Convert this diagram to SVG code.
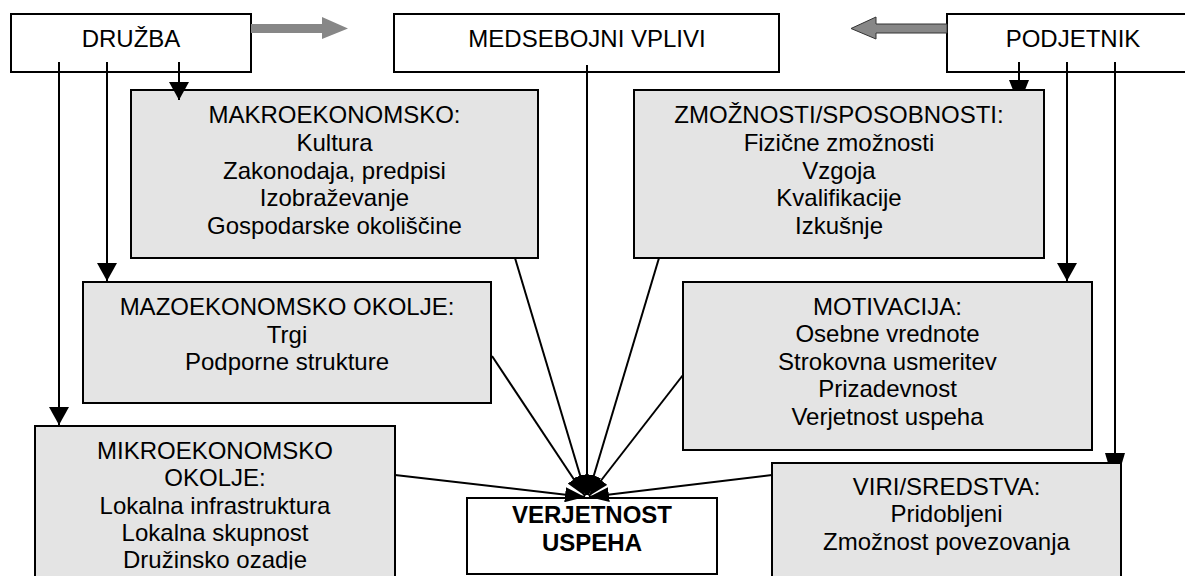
<svg xmlns="http://www.w3.org/2000/svg" width="1185" height="576" viewBox="0 0 1185 576">
<style>
.box{fill:#ffffff;stroke:#000;stroke-width:2}
.gbox{fill:#e4e4e4;stroke:#000;stroke-width:2}
text{font-family:"Liberation Sans",Arial,sans-serif;font-size:24px;fill:#000;text-anchor:middle}
.b{font-weight:bold}
.ln{stroke:#000;stroke-width:2;fill:none}
.big{marker-end:url(#big)}
.sm{marker-end:url(#sm)}
.ah{fill:#000}
</style>
<defs>
<marker id="big" viewBox="0 0 18 20" refX="18" refY="10" markerWidth="18" markerHeight="20" markerUnits="userSpaceOnUse" orient="auto">
<path d="M0,0 L18,10 L0,20 z" fill="#000"/>
</marker>
<marker id="sm" viewBox="0 0 20 15" refX="20" refY="7.5" markerWidth="20" markerHeight="15" markerUnits="userSpaceOnUse" orient="auto">
<path d="M0,0 L20,7.5 L0,15 z" fill="#000"/>
</marker>
<clipPath id="clipBottom"><rect x="0" y="0" width="1185" height="569.5"/></clipPath>
</defs>

<g id="druzba">
<rect class="box" x="11" y="14" width="240" height="58"/>
<text x="131" y="47">DRUŽBA</text>
</g>
<g id="medsebojni">
<rect class="box" x="394" y="14" width="385" height="58"/>
<text x="587" y="47">MEDSEBOJNI VPLIVI</text>
</g>
<g id="podjetnik">
<rect class="box" x="947" y="14" width="252" height="58"/>
<text x="1073" y="47">PODJETNIK</text>
</g>
<g id="makro">
<rect class="gbox" x="131" y="90" width="407" height="168"/>
<text x="334.5" y="123">MAKROEKONOMSKO:</text>
<text x="334.5" y="151">Kultura</text>
<text x="334.5" y="178.5">Zakonodaja, predpisi</text>
<text x="334.5" y="206">Izobraževanje</text>
<text x="334.5" y="233.5">Gospodarske okoliščine</text>
</g>
<g id="zmoznosti">
<rect class="gbox" x="634" y="90" width="410" height="168"/>
<text x="839" y="123">ZMOŽNOSTI/SPOSOBNOSTI:</text>
<text x="839" y="151">Fizične zmožnosti</text>
<text x="839" y="178.5">Vzgoja</text>
<text x="839" y="206">Kvalifikacije</text>
<text x="839" y="233.5">Izkušnje</text>
</g>
<g id="mazo">
<rect class="gbox" x="83" y="282" width="408" height="121"/>
<text x="287" y="315">MAZOEKONOMSKO OKOLJE:</text>
<text x="287" y="342.5">Trgi</text>
<text x="287" y="370">Podporne strukture</text>
</g>
<g id="motivacija">
<rect class="gbox" x="683" y="282" width="409" height="168"/>
<text x="887.5" y="315">MOTIVACIJA:</text>
<text x="887.5" y="342">Osebne vrednote</text>
<text x="887.5" y="370">Strokovna usmeritev</text>
<text x="887.5" y="397">Prizadevnost</text>
<text x="887.5" y="424.5">Verjetnost uspeha</text>
</g>
<g id="mikro">
<rect class="gbox" x="35" y="426" width="360" height="160"/>
<text x="215" y="458.5">MIKROEKONOMSKO</text>
<text x="215" y="486">OKOLJE:</text>
<text x="215" y="513.5">Lokalna infrastruktura</text>
<text x="215" y="541">Lokalna skupnost</text>
<text x="215" y="567.5" clip-path="url(#clipBottom)">Družinsko ozadje</text>
</g>
<g id="viri">
<rect class="gbox" x="772" y="463" width="349" height="123"/>
<text x="946.5" y="495">VIRI/SREDSTVA:</text>
<text x="946.5" y="522">Pridobljeni</text>
<text x="946.5" y="550">Zmožnost povezovanja</text>
</g>
<g id="verjetnost">
<rect class="box" x="467" y="498" width="250" height="76"/>
<text class="b" x="592" y="523">VERJETNOST</text>
<text class="b" x="592" y="551">USPEHA</text>
</g>

<g id="connectors">
<path d="M251,24 L322,24 L322,17 L348,28.5 L322,39 L322,33 L251,33 z" fill="#878787"/>
<path d="M947,24 L876,24 L876,17 L851,28.5 L876,39 L876,33 L947,33 z" fill="#878787" stroke="#333" stroke-width="1"/>
<line class="ln big" x1="59" y1="62" x2="59" y2="425"/>
<line class="ln big" x1="107" y1="62" x2="107" y2="281"/>
<line class="ln big" x1="179" y1="62" x2="179" y2="100"/>
<line class="ln" x1="1019" y1="62" x2="1019" y2="81"/>
<polygon class="ah" points="1009,80 1029,80 1025,90 1013,90"/>
<line class="ln big" x1="1067" y1="62" x2="1067" y2="281"/>
<line class="ln" x1="1115" y1="62" x2="1115" y2="454"/>
<polygon class="ah" points="1105,453 1125,453 1122,463 1108,463"/>
<line class="ln sm" x1="395" y1="475" x2="585" y2="497"/>
<line class="ln sm" x1="492" y1="356" x2="585" y2="496"/>
<line class="ln sm" x1="515" y1="258" x2="586" y2="495"/>
<line class="ln sm" x1="587" y1="65" x2="587" y2="495"/>
<line class="ln sm" x1="659" y1="258" x2="588" y2="495"/>
<line class="ln sm" x1="683" y1="375" x2="589" y2="496"/>
<line class="ln sm" x1="772" y1="475" x2="589" y2="497"/>
</g>
</svg>
